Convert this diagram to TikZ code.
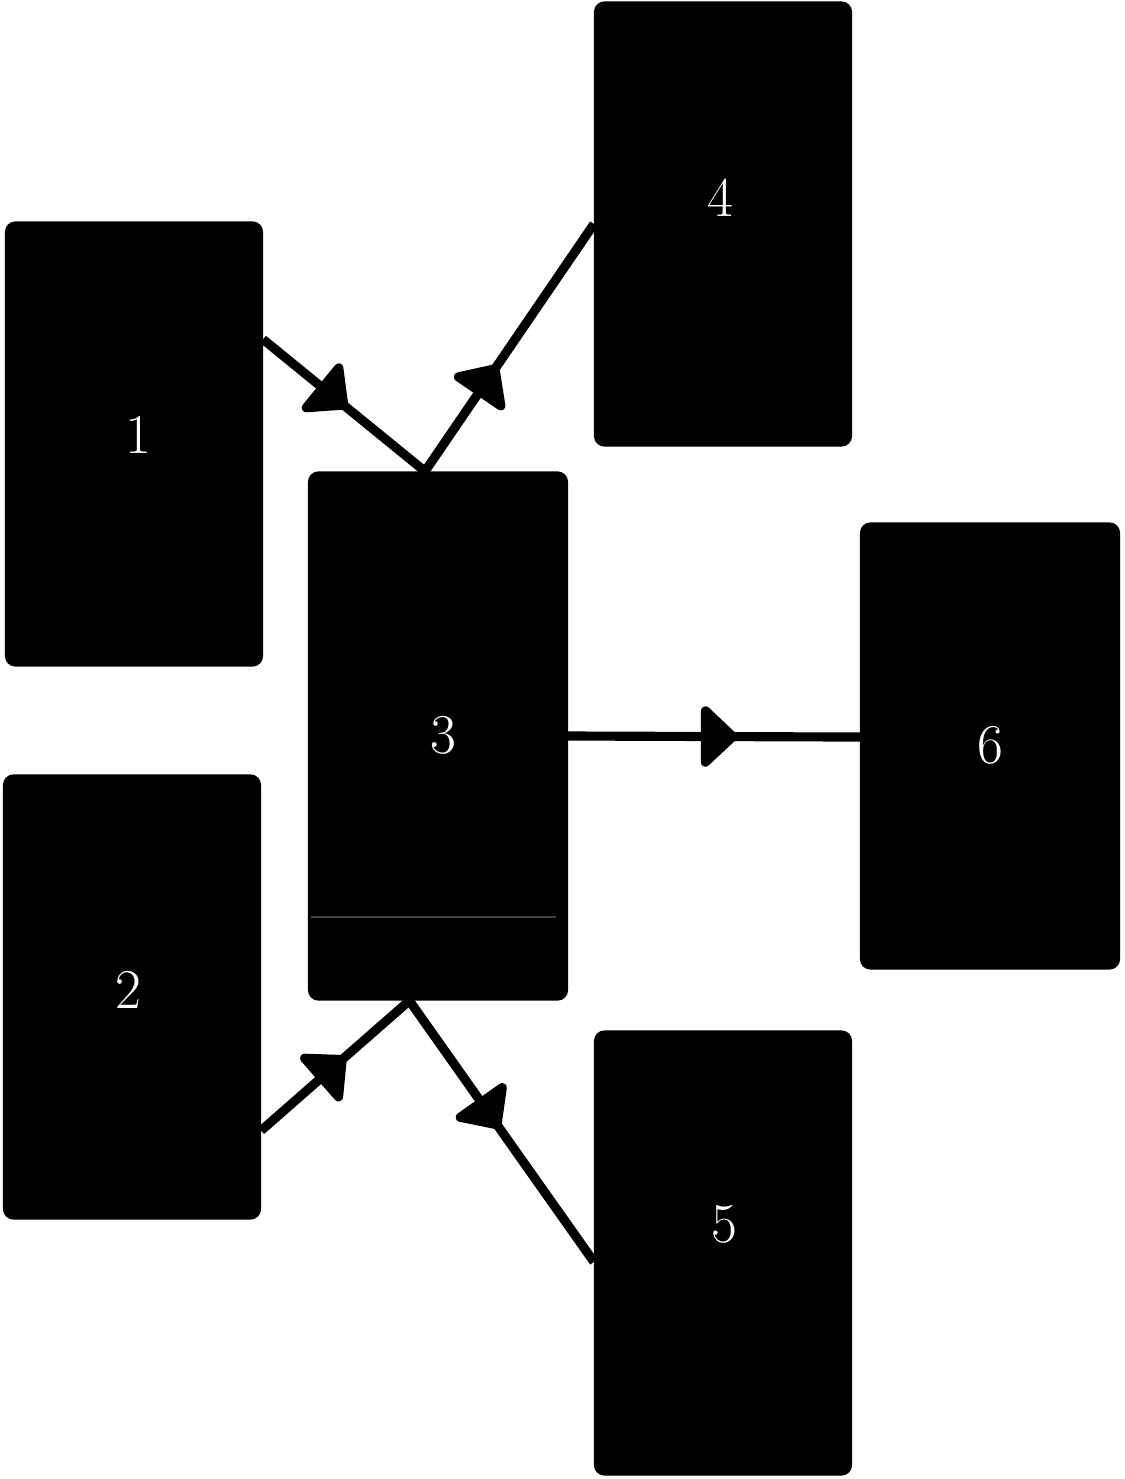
\documentclass[tikz,border=0pt]{standalone}
\usetikzlibrary{arrows.meta,decorations.markings,calc}
\begin{document}
\begin{tikzpicture}[x=0.01cm,y=-0.01cm,
  box/.style={fill=black,rounded corners=3pt,inner sep=0pt,outer sep=0pt,minimum width=2.58cm,minimum height=4.45cm},
  lab/.style={text=white,inner sep=0pt,font=\fontsize{16}{18}\selectfont},
  conn/.style={line width=2.6pt,postaction={decorate},
    decoration={markings,mark=at position #1 with {\arrow[line join=round]{Triangle[round,width=20pt,length=11pt]}}}}
]
\useasboundingbox (0,0) rectangle (1124,1479);
% boxes
\node[box] (n1) at (134,444) {};
\node[box] (n2) at (132,997) {};
\node[box,minimum width=2.6cm,minimum height=5.29cm] (n3) at (438,736) {};
\node[box] (n4) at (723,224) {};
\node[box] (n5) at (723,1253) {};
\node[box,minimum width=2.6cm,minimum height=4.47cm] (n6) at (990,746) {};
% faint separator inside box 3
\draw[black!75,line width=0.5pt] ($(n3.south west)+(3,-84)$) -- ($(n3.south east)+(-12,-84)$);
% labels
\node[lab] (l1) at (138,435) {1};
\node[lab] (l2) at (128,990) {2};
\node[lab] (l3) at (443,735) {3};
\node[lab] (l4) at (720,198) {4};
\node[lab] (l5) at (724,1224) {5};
\node[lab] (l6) at (990,745) {6};
% connector end points
\coordinate (s1) at ($(n1.north east)!0.265!(n1.south east)$);
\coordinate (t3) at ($(n3.north west)!0.45!(n3.north east)$);
\coordinate (s2) at ($(n2.north east)!0.80!(n2.south east)$);
\coordinate (b3) at ($(n3.south west)!0.39!(n3.south east)$);
\coordinate (e5) at ($(n5.north west)!0.52!(n5.south west)$);
\coordinate (e6) at ($(n6.north west)!0.48!(n6.south west)$);
% connectors
\draw[conn=0.52] (s1) -- (t3);
\draw[conn=0.43] (t3) -- (n4.west);
\draw[conn=0.57] (s2) -- (b3);
\draw[conn=0.49] (b3) -- (e5);
\draw[conn=0.58] (n3.east) -- (e6);
\end{tikzpicture}
\end{document}
